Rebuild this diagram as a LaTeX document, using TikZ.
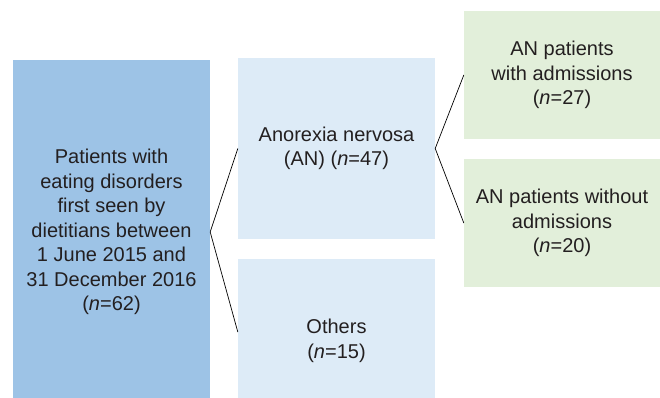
\documentclass[tikz,border=0pt]{standalone}
\usepackage{fontspec}
\setmainfont{Liberation Sans}
\usetikzlibrary{positioning}
\definecolor{rootblue}{HTML}{9DC3E6}
\definecolor{paleblue}{HTML}{DDEBF7}
\definecolor{palegreen}{HTML}{E2EFDA}
\definecolor{textgray}{HTML}{231F20}

\begin{document}
\begin{tikzpicture}[
  x=1pt, y=-1pt,
  every node/.style={font=\fontsize{20}{24.5}\selectfont, text=textgray, align=center, inner sep=0pt},
  box/.style = {rectangle, minimum width=197pt},
  link/.style = {black, line width=0.7pt}
  ]
	\useasboundingbox (0,0) rectangle (660,398);
	\clip (0,0) rectangle (660,398);

	\node[box, fill=rootblue, minimum height=344pt] (all) at (111.5,232)
		{Patients with\\eating disorders\\first seen by\\dietitians between\\1 June 2015 and\\31 December 2016\\(\textit{n}=62)};
	\node[box, fill=paleblue, minimum height=181pt] (an) at (336.5,148.5)
		{Anorexia nervosa\\(AN) (\textit{n}=47)};
	\node[box, fill=paleblue, minimum height=164pt] (others) at (336.5,341)
		{Others\\(\textit{n}=15)};
	\node[box, fill=palegreen, minimum width=196pt, minimum height=128pt] (adm) at (562,75)
		{AN patients\\with admissions\\(\textit{n}=27)};
	\node[box, fill=palegreen, minimum width=196pt, minimum height=128pt] (noadm) at (562,223)
		{AN patients without\\admissions\\(\textit{n}=20)};

	\draw[link] (an.west) -- (all.east) -- ([yshift=9pt]others.west);
	\draw[link] (adm.west) -- (an.east) -- (noadm.west);

\end{tikzpicture}
\end{document}
